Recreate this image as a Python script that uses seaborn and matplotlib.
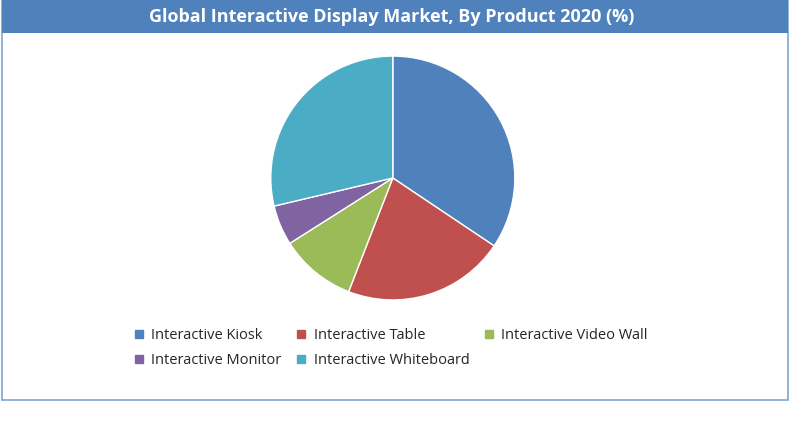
import matplotlib
matplotlib.use("Agg")
import matplotlib.pyplot as plt
import seaborn as sns
from matplotlib.patches import Rectangle
from matplotlib.lines import Line2D

title = "Global Interactive Display Market, By Product 2020 (%)"
products = ["Interactive Kiosk", "Interactive Table", "Interactive Video Wall",
            "Interactive Monitor", "Interactive Whiteboard"]
shares = [34.4, 21.5, 10.1, 5.3, 28.7]
colors = ["#4F81BD", "#C0504D", "#9BBB59", "#8064A2", "#4BACC6"]

sns.set_theme(style="white", font="Open Sans")
fig = plt.figure(figsize=(8, 4.45), dpi=100)

# frame and title bar
fig.patches.append(Rectangle((0.002, 1 - 400 / 445), 0.983, 400 / 445 - 0.002,
                             transform=fig.transFigure, fill=False,
                             edgecolor="#7FA4D3", linewidth=1.2))
fig.patches.append(Rectangle((0.002, 1 - 33 / 445), 0.983, 33 / 445,
                             transform=fig.transFigure, facecolor="#4F81BD",
                             edgecolor="none"))
fig.text(0.49, 1 - 17 / 445, title, ha="center", va="center",
         color="white", fontsize=13, fontweight="bold")

ax = fig.add_axes([0.491 - 0.1525, 0.6 - 0.274, 0.305, 0.548])
ax.pie(shares, colors=colors, startangle=90, counterclock=False, radius=1,
       wedgeprops=dict(edgecolor="white", linewidth=1))
ax.set_xlim(-1, 1)
ax.set_ylim(-1, 1)
ax.set_aspect("auto")
ax.axis("off")

handles = [Line2D([], [], marker="s", linestyle="", color=c, markersize=6)
           for c in colors]
order = [0, 3, 1, 4, 2]
fig.legend([handles[i] for i in order], [products[i] for i in order],
           ncol=3, loc="center", bbox_to_anchor=(0.485, 1 - 348 / 445),
           frameon=False, fontsize=10.5, handletextpad=0.1, columnspacing=0.6,
           labelspacing=0.7, handlelength=1.5)

fig.savefig("out.png", dpi=100, facecolor="white")
